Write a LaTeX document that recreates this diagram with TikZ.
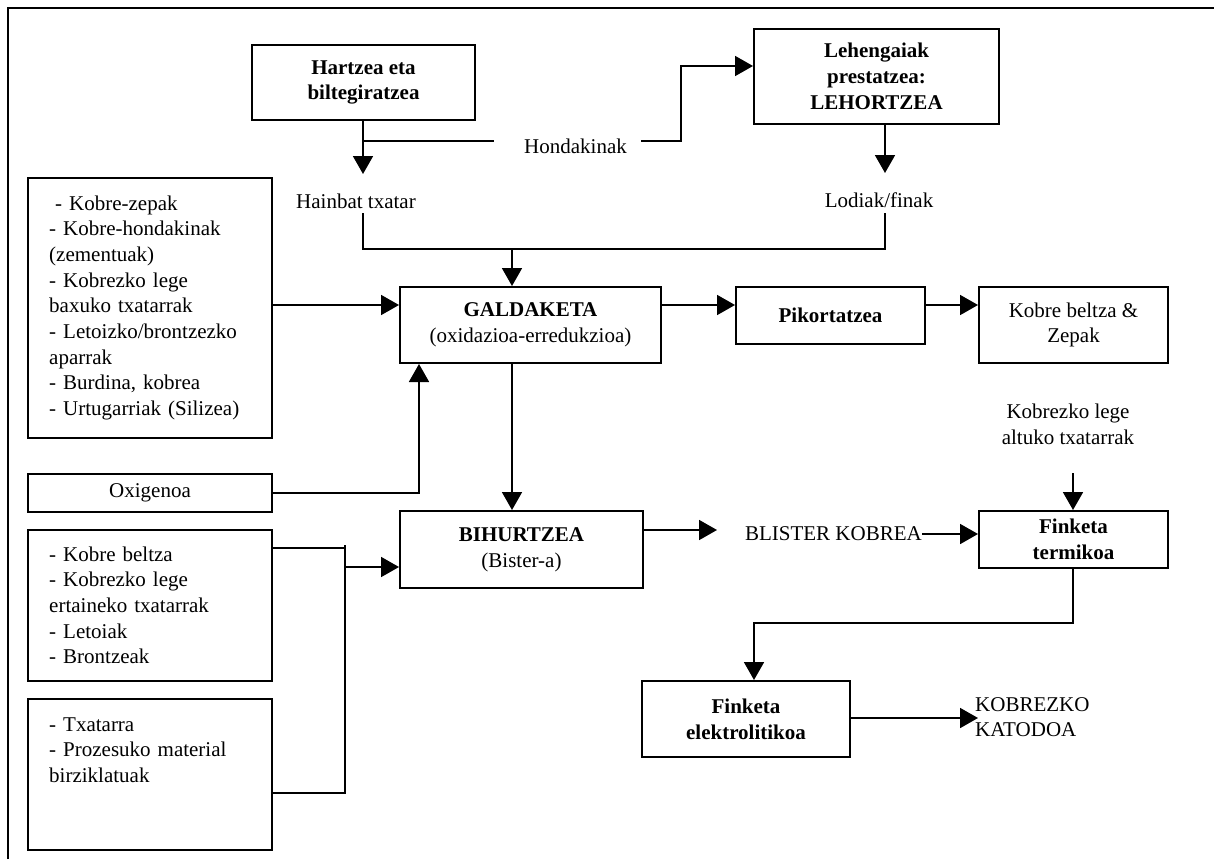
\documentclass[tikz,border=0pt]{standalone}
\usepackage{fontspec}
\setmainfont{Liberation Serif}
\usetikzlibrary{arrows.meta}
\begin{document}
\begin{tikzpicture}[x=1pt,y=-1pt,
  every node/.style={font=\fontsize{21}{25.7}\selectfont},
  box/.style={draw, line width=2pt, inner sep=0pt, align=center},
  bbox/.style={box, font=\fontsize{21}{25.7}\selectfont\bfseries},
  lbl/.style={inner sep=0pt, align=center},
  list/.style={inner sep=0pt, align=left, text width=225pt, anchor=base west},
  ln/.style={line width=1.8pt},
  arr/.style={line width=1.8pt, -{Triangle[length=18pt,width=20pt]}},
  frame/.style={line width=2.4pt}]
\useasboundingbox (0,0) rectangle (1214,859);

% page rules: top and left only
\coordinate (frameTL) at (8,8);
\coordinate (frameBL) at (8,859);
\coordinate (frameTR) at (1214,8);
\draw[frame] (frameBL) -- (frameTL) -- (frameTR);

% process boxes
\node[bbox, minimum width=223pt, minimum height=75pt] (hartz) at (363.5,82.5) {Hartzea eta\\biltegiratzea};
\node[bbox, minimum width=245pt, minimum height=95pt] (lehen) at (876.5,76.5) {Lehengaiak\\prestatzea:\\LEHORTZEA};
\node[box, minimum width=261pt, minimum height=76pt] (galda) at (530.5,325) {\textbf{GALDAKETA}\\(oxidazioa-erredukzioa)};
\node[bbox, minimum width=189pt, minimum height=57pt] (pikor) at (830.5,315.5) {Pikortatzea};
\node[box, minimum width=189pt, minimum height=76pt] (kbz) at (1073.5,325) {Kobre beltza \&\\Zepak};
\node[box, minimum width=243pt, minimum height=77pt] (bihur) at (521.5,549.5) {\textbf{BIHURTZEA}\\(Bister-a)};
\node[bbox, minimum width=189pt, minimum height=57pt] (fterm) at (1073.5,539.5) {Finketa\\termikoa};
\node[bbox, minimum width=208pt, minimum height=76pt] (felek) at (746,719) {Finketa\\elektrolitikoa};

% input boxes on the left
\node[box, minimum width=244pt, minimum height=260pt] (in1) at (150,308) {};
\node[box, minimum width=244pt, minimum height=38pt] (oxy) at (150,493) {Oxigenoa};
\node[box, minimum width=244pt, minimum height=151pt] (in2) at (150,605.5) {};
\node[box, minimum width=244pt, minimum height=151pt] (in3) at (150,774.5) {};

\node[list] (in1txt) at (49,210) {\hspace*{6pt}- Kobre-zepak\\- Kobre-hondakinak\\(zementuak)\\- Kobrezko lege\\baxuko txatarrak\\- Letoizko/brontzezko\\aparrak\\- Burdina, kobrea\\- Urtugarriak (Silizea)};
\node[list] (in2txt) at (49,561) {- Kobre beltza\\- Kobrezko lege\\ertaineko txatarrak\\- Letoiak\\- Brontzeak};
\node[list] (in3txt) at (49,731) {- Txatarra\\- Prozesuko material\\birziklatuak};

% free labels
\node[lbl, anchor=west] (hondak) at (524,146) {Hondakinak};
\node[lbl] (hainbat) at (356,201) {Hainbat txatar};
\node[lbl] (lodiak) at (879,200) {Lodiak/finak};
\node[lbl] (altuko) at (1068,424) {Kobrezko lege\\altuko txatarrak};
\node[lbl, anchor=east] (blister) at (922,534) {BLISTER KOBREA};
\node[lbl, anchor=west, align=left] (katodo) at (975,717) {KOBREZKO\\KATODOA};

% connector waypoints
\coordinate (hainTop) at (363,174);
\coordinate (teeHond) at (363,141);
\coordinate (hondEnd) at (494,141);
\coordinate (hondOut) at (641,141);
\coordinate (hondRise) at (681,66);
\coordinate (lodTop) at (885,173);
\coordinate (hainBot) at (363,213);
\coordinate (lodBot) at (885,213);
\coordinate (mergeR) at (885,249);
\coordinate (mergeMid) at (512,249);
\coordinate (feedA) at (0,305);
\coordinate (oxyRise) at (419,0);
\coordinate (busTop) at (345,545);
\coordinate (busIn2) at (345,548);
\coordinate (busOut) at (345,567);
\coordinate (busIn3) at (345,793);
\coordinate (blisterTip) at (717,530);
\coordinate (altukoBot) at (1073,473);
\coordinate (termDrop) at (1073,623);
\coordinate (elekTop) at (754,623);
\coordinate (katTip) at (978,718);

% connectors
\draw[arr] (hartz.south -| hainTop) -- (hainTop);
\draw[ln] (teeHond) -- (hondEnd);
\draw[arr] (hondOut) -| (hondRise) -- (lehen.west |- hondRise);
\draw[arr] (lehen.south -| lodTop) -- (lodTop);
\draw[ln] (hainBot) |- (mergeR) -- (lodBot);
\draw[arr] (mergeMid) -- (mergeMid |- galda.north);
\draw[arr] (in1.east |- feedA) -- (galda.west |- feedA);
\draw[arr] (galda.east |- feedA) -- (pikor.west |- feedA);
\draw[arr] (pikor.east |- feedA) -- (kbz.west |- feedA);
\draw[arr] (oxy.east) -| (galda.south -| oxyRise);
\draw[arr] (galda.south -| mergeMid) -- (bihur.north -| mergeMid);
\draw[ln] (in2.east |- busIn2) -- (busIn2);
\draw[ln] (busTop) -- (busIn3) -- (in3.east |- busIn3);
\draw[arr] (busOut) -- (bihur.west |- busOut);
\draw[arr] (bihur.east |- blisterTip) -- (blisterTip);
\draw[arr] (blister.east) -- (fterm.west |- blister.east);
\draw[arr] (altukoBot) -- (altukoBot |- fterm.north);
\draw[arr] (fterm.south -| termDrop) -- (termDrop) -- (elekTop) -- (elekTop |- felek.north);
\draw[arr] (felek.east |- katTip) -- (katTip);
\end{tikzpicture}
\end{document}
